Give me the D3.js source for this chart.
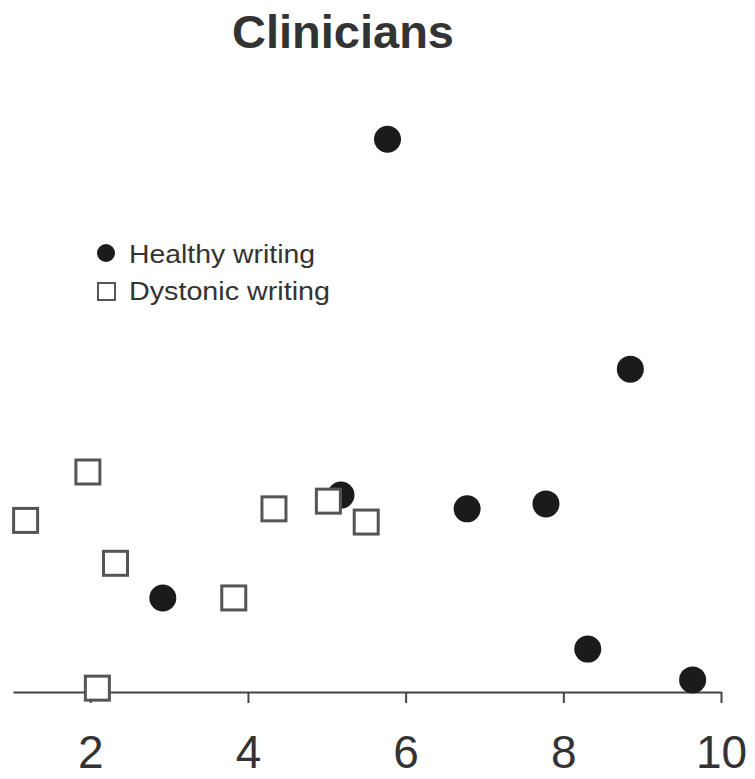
<!DOCTYPE html>
<html>
<head>
<meta charset="utf-8">
<script src="https://cdn.jsdelivr.net/npm/d3@7"></script>
<style>
  body { margin: 0; background: #fff; }
  svg { display: block; font-family: "Liberation Sans", Arial, sans-serif; }
</style>
</head>
<body>
<svg id="chart"></svg>
<script>
// Data
var healthyX = [5.77, 8.85, 5.18, 6.78, 7.78, 2.92, 8.31, 9.64];
var healthyY = [10.05, 5.87, 3.58, 3.33, 3.42, 1.71, 0.78, 0.22];
var dystonicX = [1.97, 1.18, 2.32, 3.82, 4.33, 5.02, 5.50, 2.09];
var dystonicY = [4.00, 3.12, 2.34, 1.71, 3.33, 3.47, 3.09, 0.07];
var xTicks = [2, 4, 6, 8, 10];
var legendLabels = ['Healthy writing', 'Dystonic writing'];
var title = 'Clinicians';

var width = 755,
    height = 779,
    axisY = 692,
    sq = 24,
    r = 13.5;

var svg = d3.select('#chart')
    .attr('width', width)
    .attr('height', height);

var xScale = d3.scaleLinear()
    .domain([1.02, 10])
    .range([13, 721]);

var yScale = d3.scaleLinear()
    .domain([0, 10])
    .range([axisY, 142]);

var healthy = healthyX.map(function(d, i) { return {x: d, y: healthyY[i]}; });
var dystonic = dystonicX.map(function(d, i) { return {x: d, y: dystonicY[i]}; });

// title
svg.append('text')
    .attr('x', 343)
    .attr('y', 48)
    .attr('text-anchor', 'middle')
    .style('font-size', '47px')
    .style('font-weight', 'bold')
    .style('fill', '#333')
    .text(title);

// x axis
var xAxis = d3.axisBottom(xScale)
    .tickValues(xTicks)
    .tickSize(11)
    .tickSizeOuter(0)
    .tickPadding(32)
    .tickFormat(d3.format('d'));

var gx = svg.append('g')
    .attr('transform', 'translate(0,' + axisY + ')')
    .call(xAxis);

gx.select('.domain').attr('stroke', '#444').attr('stroke-width', 2);
gx.selectAll('.tick line').attr('stroke', '#444').attr('stroke-width', 2);
gx.selectAll('.tick text')
    .style('font-size', '46px')
    .style('font-family', '"Liberation Sans", Arial, sans-serif')
    .attr('fill', '#333');

// healthy writing (filled circles)
svg.append('g').selectAll('circle')
    .data(healthy)
    .enter().append('circle')
    .attr('cx', function(d) { return xScale(d.x); })
    .attr('cy', function(d) { return yScale(d.y); })
    .attr('r', r)
    .attr('fill', '#1c1a1a');

// dystonic writing (open squares), drawn on top
svg.append('g').selectAll('rect')
    .data(dystonic)
    .enter().append('rect')
    .attr('x', function(d) { return xScale(d.x) - sq / 2; })
    .attr('y', function(d) { return yScale(d.y) - sq / 2; })
    .attr('width', sq)
    .attr('height', sq)
    .attr('fill', '#fff')
    .attr('stroke', '#555')
    .attr('stroke-width', 3);

// legend
var legend = svg.append('g').attr('transform', 'translate(106,253)');

legend.append('circle')
    .attr('cx', 0)
    .attr('cy', 0)
    .attr('r', 9)
    .attr('fill', '#1c1a1a');

legend.append('rect')
    .attr('x', -8)
    .attr('y', 30)
    .attr('width', 17)
    .attr('height', 17)
    .attr('fill', '#fff')
    .attr('stroke', '#555')
    .attr('stroke-width', 2);

legend.selectAll('text.lab')
    .data(legendLabels)
    .enter().append('text')
    .attr('class', 'lab')
    .attr('x', 23)
    .attr('y', function(d, i) { return 10 + i * 37; })
    .attr('textLength', function(d, i) { return i === 0 ? 186 : 201; })
    .attr('lengthAdjust', 'spacingAndGlyphs')
    .style('font-size', '25px')
    .style('fill', '#333')
    .text(function(d) { return d; });
</script>
</body>
</html>
